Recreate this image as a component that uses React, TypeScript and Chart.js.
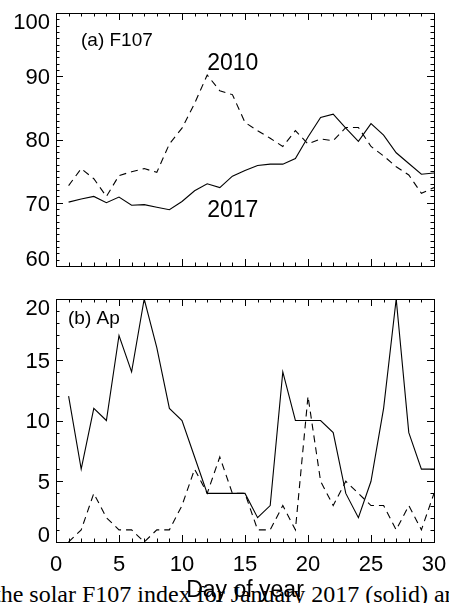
import React, { useEffect, useRef } from 'react';
import { Chart, registerables } from 'chart.js';

Chart.register(...registerables);

// ---------------- data ----------------
const days = [1, 2, 3, 4, 5, 6, 7, 8, 9, 10, 11, 12, 13, 14, 15, 16, 17, 18, 19, 20, 21, 22, 23, 24, 25, 26, 27, 28, 29, 30];

const f107Year2017 = [70.1, 70.6, 71.0, 70.0, 70.9, 69.6, 69.7, 69.3, 68.9, 70.2, 71.9, 73.0, 72.4, 74.2, 75.1, 75.9, 76.1, 76.1, 77.0, 80.4, 83.5, 84.0, 81.8, 79.7, 82.5, 80.7, 77.9, 76.2, 74.5, 74.7];
const f107Year2010 = [72.7, 75.4, 73.8, 71.0, 74.3, 74.9, 75.4, 74.8, 79.3, 81.8, 85.7, 90.2, 87.7, 87.1, 82.7, 81.4, 80.2, 78.9, 81.4, 79.3, 80.1, 79.8, 81.9, 81.9, 78.9, 77.4, 75.7, 74.4, 71.5, 72.4];

const apYear2017 = [12, 6, 11, 10, 17, 14, 20, 16, 11, 10, 7, 4, 4, 4, 4, 2, 3, 14, 10, 10, 10, 9, 4, 2, 5, 11, 20, 9, 6, 6];
const apYear2010 = [0, 1, 4, 2, 1, 1, 0, 1, 1, 3, 6, 4, 7, 4, 4, 1, 1, 3, 1, 12, 5, 3, 5, 4, 3, 3, 1, 3, 1, 4];

const xTickValues = [0, 5, 10, 15, 20, 25, 30];
const f107TickValues = [60, 70, 80, 90, 100];
const apTickValues = [0, 5, 10, 15, 20];

const panelATitle = '(a) F107';
const panelBTitle = '(b) Ap';
const seriesLabels = ['2010', '2017'];
const seriesLabelAnchors = [
  { x: 12, y: 91.0 },
  { x: 12, y: 67.8 },
];
const xAxisTitle = 'Day of year';
const captionText = 'the solar F107 index for January 2017 (solid) and';

// ---------------- plugin ----------------
type PanelOpts = {
  xMin: number;
  xMax: number;
  xMajor: number;
  yMin: number;
  yMax: number;
  yMinorStep: number;
  yMajor: number;
  yTicks: number[];
  showXLabels: boolean;
  title: string;
  titleX: number;
  titleBaseline: number;
  labels?: { text: string; x: number; y: number }[];
};

function makeAxesPlugin(o: PanelOpts) {
  return {
    id: 'idlAxes',
    afterDatasetsDraw(chart: any) {
      const ctx = chart.ctx as CanvasRenderingContext2D;
      const { left, right, top, bottom } = chart.chartArea;
      const xs = chart.scales.x;
      const ys = chart.scales.y;
      ctx.save();
      ctx.strokeStyle = '#000';
      ctx.lineWidth = 1;
      ctx.strokeRect(left + 0.5, top + 0.5, right - left, bottom - top);

      ctx.beginPath();
      const nx = Math.round(o.xMax - o.xMin);
      for (let i = 0; i <= nx; i++) {
        const v = o.xMin + i;
        const px = Math.round(xs.getPixelForValue(v)) + 0.5;
        const len = v % o.xMajor === 0 ? 7 : 3.5;
        ctx.moveTo(px, bottom);
        ctx.lineTo(px, bottom - len);
        ctx.moveTo(px, top);
        ctx.lineTo(px, top + len);
      }
      const ny = Math.round((o.yMax - o.yMin) / o.yMinorStep);
      for (let i = 0; i <= ny; i++) {
        const v = o.yMin + i * o.yMinorStep;
        const py = Math.round(ys.getPixelForValue(v)) + 0.5;
        const len = Math.abs(v % o.yMajor) < 1e-6 ? 7 : 3.5;
        ctx.moveTo(left, py);
        ctx.lineTo(left + len, py);
        ctx.moveTo(right, py);
        ctx.lineTo(right - len, py);
      }
      ctx.stroke();

      ctx.fillStyle = '#000';
      // y labels
      const fs = 22;
      const capH = fs * 0.716;
      ctx.font = `${fs}px "Liberation Sans", Arial, sans-serif`;
      ctx.textAlign = 'right';
      ctx.textBaseline = 'alphabetic';
      for (const v of o.yTicks) {
        const py = ys.getPixelForValue(v);
        let base = py + capH / 2;
        base = Math.max(base, top + capH);
        base = Math.min(base, bottom);
        ctx.fillText(String(v), left - 6, base);
      }
      // x labels
      if (o.showXLabels) {
        ctx.textAlign = 'center';
        for (const v of xTickValues) {
          const px = xs.getPixelForValue(v);
          ctx.fillText(String(v), px, bottom + 29);
        }
        ctx.font = `23px "Liberation Sans", Arial, sans-serif`;
        ctx.fillText(xAxisTitle, (left + right) / 2, bottom + 55);
      }
      // panel title
      ctx.textAlign = 'left';
      ctx.font = `19px "Liberation Sans", Arial, sans-serif`;
      ctx.fillText(o.title, o.titleX, o.titleBaseline);
      // series labels
      if (o.labels) {
        ctx.font = `23px "Liberation Sans", Arial, sans-serif`;
        for (const l of o.labels) {
          ctx.fillText(l.text, xs.getPixelForValue(l.x), ys.getPixelForValue(l.y));
        }
      }
      ctx.restore();
    },
  };
}

function makeConfig(
  solid: number[],
  dashed: number[],
  padding: { left: number; top: number; right: number; bottom: number },
  o: PanelOpts
): any {
  return {
    type: 'line',
    data: {
      datasets: [
        {
          label: 'dashed',
          data: days.map((d, i) => ({ x: d, y: dashed[i] })),
          borderColor: '#000',
          borderWidth: 1.1,
          borderDash: [7, 5],
          pointRadius: 0,
          tension: 0,
          fill: false,
        },
        {
          label: 'solid',
          data: days.map((d, i) => ({ x: d, y: solid[i] })),
          borderColor: '#000',
          borderWidth: 1.1,
          pointRadius: 0,
          tension: 0,
          fill: false,
        },
      ],
    },
    options: {
      responsive: false,
      animation: false,
      devicePixelRatio: 1,
      layout: { padding },
      plugins: { legend: { display: false }, tooltip: { enabled: false }, title: { display: false } },
      events: [],
      scales: {
        x: { type: 'linear', min: o.xMin, max: o.xMax, display: false },
        y: { type: 'linear', min: o.yMin, max: o.yMax, display: false },
      },
    },
    plugins: [makeAxesPlugin(o)],
  };
}

function Panel(props: { top: number; height: number; config: any }) {
  const ref = useRef<HTMLCanvasElement | null>(null);
  useEffect(() => {
    if (!ref.current) return;
    const chart = new Chart(ref.current, props.config);
    return () => chart.destroy();
  }, []);
  return (
    <canvas
      ref={ref}
      width={449}
      height={props.height}
      style={{ position: 'absolute', left: 0, top: props.top, width: 449, height: props.height }}
    />
  );
}

export default function App() {
  useEffect(() => {
    document.body.style.margin = '0';
    document.body.style.overflow = 'hidden';
  }, []);

  const topConfig = makeConfig(
    f107Year2017,
    f107Year2010,
    { left: 56, top: 13, right: 15, bottom: 24 },
    {
      xMin: 0,
      xMax: 30,
      xMajor: 5,
      yMin: 60,
      yMax: 100,
      yMinorStep: 1,
      yMajor: 10,
      yTicks: f107TickValues,
      showXLabels: false,
      title: panelATitle,
      titleX: 81,
      titleBaseline: 46,
      labels: seriesLabels.map((t, i) => ({ text: t, x: seriesLabelAnchors[i].x, y: seriesLabelAnchors[i].y })),
    }
  );

  const bottomConfig = makeConfig(
    apYear2017,
    apYear2010,
    { left: 56, top: 9, right: 15, bottom: 61 },
    {
      xMin: 0,
      xMax: 30,
      xMajor: 5,
      yMin: 0,
      yMax: 20,
      yMinorStep: 1,
      yMajor: 5,
      yTicks: apTickValues,
      showXLabels: true,
      title: panelBTitle,
      titleX: 68,
      titleBaseline: 34,
    }
  );

  return (
    <div style={{ position: 'fixed', left: 0, top: 0, width: 449, height: 603, overflow: 'hidden', background: '#fff' }}>
      <div
        style={{
          position: 'absolute',
          left: -6,
          top: 582,
          whiteSpace: 'nowrap',
          fontFamily: '"Liberation Serif", "Times New Roman", serif',
          fontSize: 24,
          lineHeight: '24px',
          color: '#000',
        }}
      >
        {captionText}
      </div>
      <Panel top={0} height={290} config={topConfig} />
      <Panel top={290} height={313} config={bottomConfig} />
    </div>
  );
}
